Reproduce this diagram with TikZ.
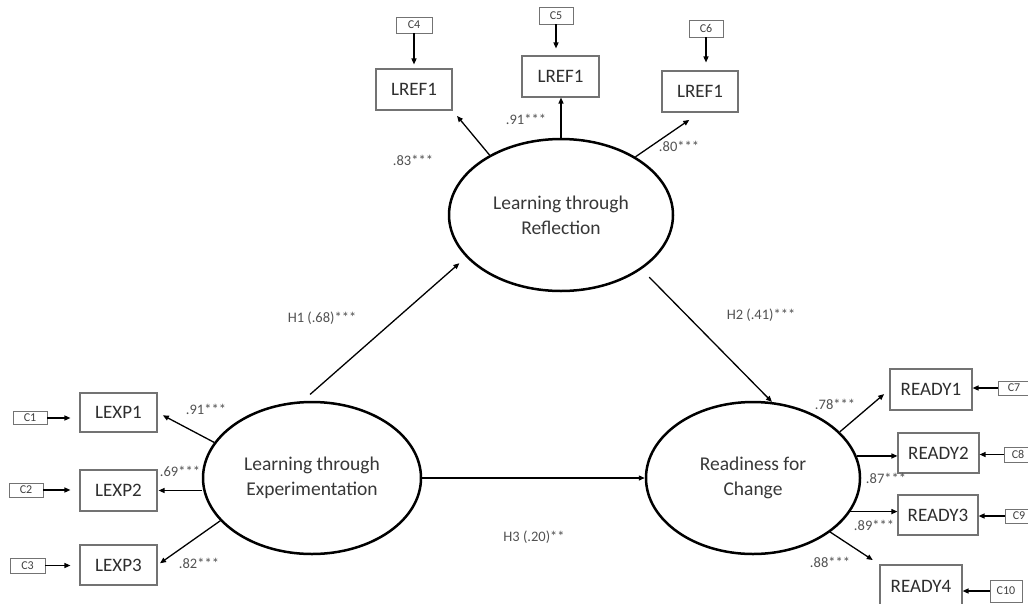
\documentclass[tikz,border=0pt]{standalone}
\usepackage{fontspec}
\setmainfont{Carlito}
\usetikzlibrary{shapes.geometric,arrows.meta}
\begin{document}
\begin{tikzpicture}[x=1pt,y=-1pt,
  ind/.style={draw=black!55, line width=1.1pt, inner sep=0pt, font=\fontsize{19}{21}\selectfont, text=black!82},
  err/.style={draw=black!55, line width=0.9pt, inner sep=0pt, font=\fontsize{12}{13}\selectfont, text=black!75},
  lat/.style={ellipse, draw=black, line width=2.5pt, inner sep=0pt, align=center, font=\fontsize{19.5}{25}\selectfont, text=black!78},
  lbl/.style={font=\fontsize{14.5}{16}\selectfont, text=black!68, inner sep=0pt},
  arr/.style={-{Triangle[length=6pt,width=5pt]}, line width=1.3pt}
]
\fill[white] (0,0) rectangle (1028,603);
\useasboundingbox (0,0) rectangle (1028,603);

% latent variables
\node[lat, minimum width=224pt, minimum height=152pt] (ER) at (561,215) {Learning through\\Reflection};
\node[lat, minimum width=218pt, minimum height=152pt] (EX) at (312,478) {Learning through\\Experimentation};
\node[lat, minimum width=214pt, minimum height=152pt] (EC) at (753,478) {Readiness for\\Change};

% top indicators
\node[err, minimum width=36pt, minimum height=16pt] (C4) at (414,25) {C4};
\node[ind, minimum width=76pt, minimum height=41pt] (L1) at (414,89.5) {LREF1};
\node[err, minimum width=34pt, minimum height=17pt] (C5) at (556,15.5) {C5};
\node[ind, minimum width=77pt, minimum height=41pt] (L2) at (560.5,76.5) {LREF1};
\node[err, minimum width=34pt, minimum height=17pt] (C6) at (706,28.5) {C6};
\node[ind, minimum width=76pt, minimum height=41pt] (L3) at (700,91.5) {LREF1};

% left indicators
\node[err, minimum width=34pt, minimum height=13pt] (C1) at (30,418) {C1};
\node[ind, minimum width=77pt, minimum height=39pt] (X1) at (118.5,412.5) {LEXP1};
\node[err, minimum width=34pt, minimum height=14pt] (C2) at (26,490) {C2};
\node[ind, minimum width=77pt, minimum height=41pt] (X2) at (118.5,490.5) {LEXP2};
\node[err, minimum width=35pt, minimum height=15pt] (C3) at (27.5,565.5) {C3};
\node[ind, minimum width=77pt, minimum height=40pt] (X3) at (118.5,565) {LEXP3};

% right indicators
\node[ind, minimum width=82pt, minimum height=41pt] (R1) at (931,389.5) {READY1};
\node[err, minimum width=32pt, minimum height=14pt] (C7) at (1014,388) {C7};
\node[ind, minimum width=81pt, minimum height=40pt] (R2) at (938.5,453) {READY2};
\node[err, minimum width=28pt, minimum height=15pt] (C8) at (1018,454.5) {C8};
\node[ind, minimum width=80pt, minimum height=40pt] (R3) at (938,515) {READY3};
\node[err, minimum width=28pt, minimum height=14pt] (C9) at (1019,516) {C9};
\node[ind, minimum width=82pt, minimum height=42pt] (R4) at (921,586) {READY4};
\node[err, minimum width=32pt, minimum height=22pt] (C10) at (1006,591) {C10};

% loading labels
\node[lbl] (l83) at (413,160) {.83***};
\node[lbl] (l91t) at (526,119) {.91***};
\node[lbl] (l80) at (679,146) {.80***};
\node[lbl] (l91) at (206,409) {.91***};
\node[lbl] (l69) at (180,471) {.69***};
\node[lbl] (l82) at (199,563) {.82***};
\node[lbl] (l78) at (835,404) {.78***};
\node[lbl] (l87) at (886,478) {.87***};
\node[lbl] (l89) at (874,525) {.89***};
\node[lbl] (l88) at (830,562) {.88***};
\node[lbl] (h1) at (322,318) {H1 (.68)***};
\node[lbl] (h2) at (761,315) {H2 (.41)***};
\node[lbl] (h3) at (534,537) {H3 (.20)**};

% error arrows top
\draw[arr, shorten >=4pt] (C4.south) -- (C4.south |- L1.north);
\draw[arr, shorten >=7pt] (C5.south) -- (C5.south |- L2.north);
\draw[arr, shorten >=8pt] (C6.south) -- (C6.south |- L3.north);
% error arrows left
\draw[arr, shorten >=9pt] (C1.east) -- (C1.east -| X1.west);
\draw[arr, shorten >=9pt] (C2.east) -- (C2.east -| X2.west);
\draw[arr, shorten >=9pt] (C3.east) -- (C3.east -| X3.west);
% error arrows right
\draw[arr] (C7.west) -- (C7.west -| R1.east);
\draw[arr] (C8.west) -- (C8.west -| R2.east);
\draw[arr] (C9.west) -- (C9.west -| R3.east);
\draw[arr] (C10.west) -- (C10.west -| R4.east);

% loadings
\draw[arr, shorten >=7pt] (ER.140) -- (L1.south east);
\draw[arr] (ER.north) -- (ER.north |- L2.south);
\draw[arr, shorten >=13pt] (ER.38) -- (L3.south);
\draw[arr, shorten >=6pt] (EX.160) -- (X1.east);
\draw[arr, shorten >=1pt] (EX.west |- X2.east) -- (X2.east);
\draw[arr, shorten >=3pt] (EX.205) -- (X3.east);
\draw[arr, shorten >=7pt] (EC.28) -- (R1.west);
\draw[arr] (EC.12) -- (EC.12 -| R2.west);
\draw[arr] (EC.-19) -- (EC.-19 -| R3.west);
\draw[arr, shorten >=8pt] (EC.-35) -- (R4.north west);

% structural paths
\draw[arr, shorten <=10pt, shorten >=9pt] (EX.97) -- (ER.204);
\draw[arr, shorten <=11pt] (ER.-34) -- (EC.76);
\draw[arr] (EX.east) -- (EC.west);
\end{tikzpicture}
\end{document}
